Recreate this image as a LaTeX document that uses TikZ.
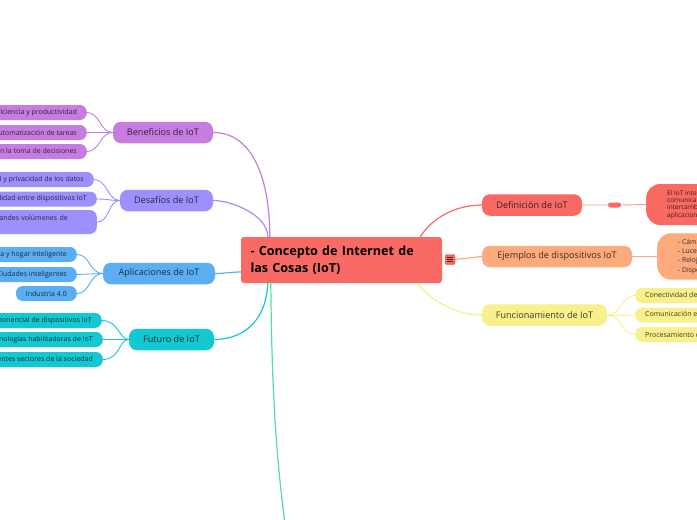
\documentclass[tikz,border=0pt]{standalone}
\usepackage{fontspec}
\setmainfont{Open Sans}
\definecolor{cRoot}{HTML}{FA6A64}
\definecolor{cBen}{HTML}{C77DDF}
\definecolor{cDes}{HTML}{9D90FC}
\definecolor{cApl}{HTML}{5BAEF3}
\definecolor{cFut}{HTML}{14C8D1}
\definecolor{cGrn}{HTML}{52DF9E}
\definecolor{cEje}{HTML}{FDAA7C}
\definecolor{cFun}{HTML}{F8F08C}
\begin{document}
\begin{tikzpicture}[x=1pt,y=-1pt,
  branch/.style={rounded corners=8pt,minimum height=21.5pt,inner sep=0pt,font=\fontsize{9.1}{10}\selectfont},
  leaf/.style={rounded corners=7pt,minimum height=15pt,inner xsep=10pt,inner ysep=0pt,font=\fontsize{7}{8}\selectfont},
  detail/.style={rounded corners=14pt,anchor=west,align=left,inner ysep=6pt,font=\fontsize{6.5}{7.3}\selectfont},
  link/.style={line width=1.2pt},twig/.style={line width=0.9pt}]
\useasboundingbox (0,0) rectangle (697,520);
\fill[white] (0,0) rectangle (697,520);
\clip (0,0) rectangle (697,520);

% central topic
\node[fill=cRoot,rounded corners=3pt,minimum width=201pt,minimum height=46pt,text width=182pt,align=left,inner sep=0pt,
  font=\fontsize{12.6}{17}\selectfont\bfseries] (root) at (341.5,260) {- Concepto de Internet de\\las Cosas (IoT)};
\node[fill=cRoot,draw=cRoot!80!black,line width=0.4pt,rounded corners=1.5pt,minimum size=10pt,inner sep=0pt] (ind) at (450,259.5) {};
\foreach \dy in {-2.2,0,2.2} \draw[cRoot!35!black,line width=0.7pt] ([xshift=-2.6pt,yshift=\dy pt]ind.center) -- ++(5.2,0);

% left branches
\node[branch,fill=cBen,text=cBen!25!black,minimum width=100pt] (ben) at (163,132.5) {Beneficios de IoT};
\node[branch,fill=cDes,text=cDes!25!black,minimum width=93pt] (des) at (166.5,200.5) {Desafíos de IoT};
\node[branch,fill=cApl,text=cApl!25!black,minimum width=112pt] (apl) at (159,273.5) {Aplicaciones de IoT};
\node[branch,fill=cFut,text=cFut!25!black,minimum width=85pt] (fut) at (171.5,339.5) {Futuro de IoT};

\node[leaf,fill=cBen,text=cBen!25!black,anchor=east] (ben1) at (87,112.5) {Mayor eficiencia y productividad};
\node[leaf,fill=cBen,text=cBen!25!black,anchor=east] (ben2) at (87,132.5) {Automatización de tareas};
\node[leaf,fill=cBen,text=cBen!25!black,anchor=east] (ben3) at (87,151.5) {Mejora en la toma de decisiones};
\node[leaf,fill=cDes,text=cDes!25!black,anchor=east] (des1) at (94,179.5) {Seguridad y privacidad de los datos};
\node[leaf,fill=cDes,text=cDes!25!black,anchor=east] (des2) at (97,199) {Interoperabilidad entre dispositivos IoT};
\node[leaf,fill=cDes,text=cDes!25!black,anchor=east,text width=132pt,align=left,minimum height=24pt] (des3) at (97,222) {Gestión de grandes volúmenes de\\datos};
\node[leaf,fill=cApl,text=cApl!25!black,anchor=east] (apl1) at (77,254.5) {Domótica y hogar inteligente};
\node[leaf,fill=cApl,text=cApl!25!black,anchor=east] (apl2) at (77,274.5) {Ciudades inteligentes};
\node[leaf,fill=cApl,text=cApl!25!black,anchor=east] (apl3) at (77,293.5) {Industria 4.0};
\node[leaf,fill=cFut,text=cFut!25!black,anchor=east] (fut1) at (102,320.5) {Crecimiento exponencial de dispositivos IoT};
\node[leaf,fill=cFut,text=cFut!25!black,anchor=east] (fut2) at (103,339.5) {Avances en tecnologías habilitadoras de IoT};
\node[leaf,fill=cFut,text=cFut!25!black,anchor=east] (fut3) at (103,359.5) {Impacto en diferentes sectores de la sociedad};

% right branches
\node[branch,fill=cRoot,text=cRoot!25!black,minimum width=100pt] (def) at (532,205) {Definición de IoT};
\node[branch,fill=cEje,text=cEje!25!black,minimum width=150pt] (eje) at (557,256.5) {Ejemplos de dispositivos IoT};
\node[branch,fill=cFun,text=cFun!25!black,minimum width=125pt] (fun) at (544.5,315) {Funcionamiento de IoT};

\node[fill=cRoot,rounded corners=2.5pt,minimum width=13pt,minimum height=5pt,inner sep=0pt] (dpill) at (614.5,205) {};
\node[detail,fill=cRoot,text=cRoot!25!black,inner xsep=21pt,minimum height=41pt] (defx) at (646,204.5)
  {El IoT interconecta objetos que se\\comunican entre sí y con sistemas,\\intercambiando datos para crear\\aplicaciones inteligentes.};
\node[detail,fill=cEje,text=cEje!25!black,inner xsep=21pt,minimum height=43pt,font=\fontsize{6.8}{9.2}\selectfont] (ejex) at (657,256.5)
  {- Cámaras de seguridad\\- Luces inteligentes\\- Relojes inteligentes\\- Dispositivos de salud};
\node[leaf,fill=cFun,text=cFun!25!black,anchor=west,minimum width=90pt,align=left] (fun1) at (635,295.5) {Conectividad de dispositivos};
\node[leaf,fill=cFun,text=cFun!25!black,anchor=west,minimum width=90pt,align=left] (fun2) at (635,315) {Comunicación entre dispositivos};
\node[leaf,fill=cFun,text=cFun!25!black,anchor=west,minimum width=90pt,align=left] (fun3) at (635,334.5) {Procesamiento de datos};

% main links
\draw[link,cBen] ([xshift=29pt]root.north west) .. controls +(0,-57) and +(40,0) .. (ben.east);
\draw[link,cDes] ([xshift=27pt]root.north west) .. controls +(0,-22) and +(18,0) .. (des.east);
\draw[link,cApl] ([yshift=-12pt]root.west) .. controls +(-10,0) and +(10,0) .. (apl.east);
\draw[link,cFut] ([xshift=27pt]root.south west) .. controls +(-2,42) and +(25,0) .. (fut.east);
\coordinate (gfar) at (292,570);
\draw[link,cGrn] ([xshift=30pt]root.south west) .. controls +(1,117) and +(-15,-90) .. (gfar);
\draw[link,cRoot] ([xshift=-22pt]root.north east) .. controls +(12,-19) and +(-26,0) .. (def.west);
\draw[link,cEje] (ind.east) -- (eje.west);
\draw[link,cFun] ([xshift=-25pt]root.south east) .. controls +(13,17) and +(-26,0) .. (fun.west);

% sub links
\foreach \c in {1,2,3} {
  \draw[twig,cBen] (ben.west) .. controls +(-13,0) and +(13,0) .. (ben\c.east);
  \draw[twig,cDes] (des.west) .. controls +(-12,0) and +(13,0) .. (des\c.east);
  \draw[twig,cApl] (apl.west) .. controls +(-13,0) and +(13,0) .. (apl\c.east);
  \draw[twig,cFut] (fut.west) .. controls +(-10,0) and +(17,0) .. (fut\c.east);
  \draw[twig,cFun] (fun.east) .. controls +(14,0) and +(-14,0) .. (fun\c.west);
}
\draw[twig,cRoot!70] (def.east) -- (dpill.west) (dpill.east) -- (defx.west);
\draw[twig,cEje] (eje.east) -- (ejex.west);
\end{tikzpicture}
\end{document}
